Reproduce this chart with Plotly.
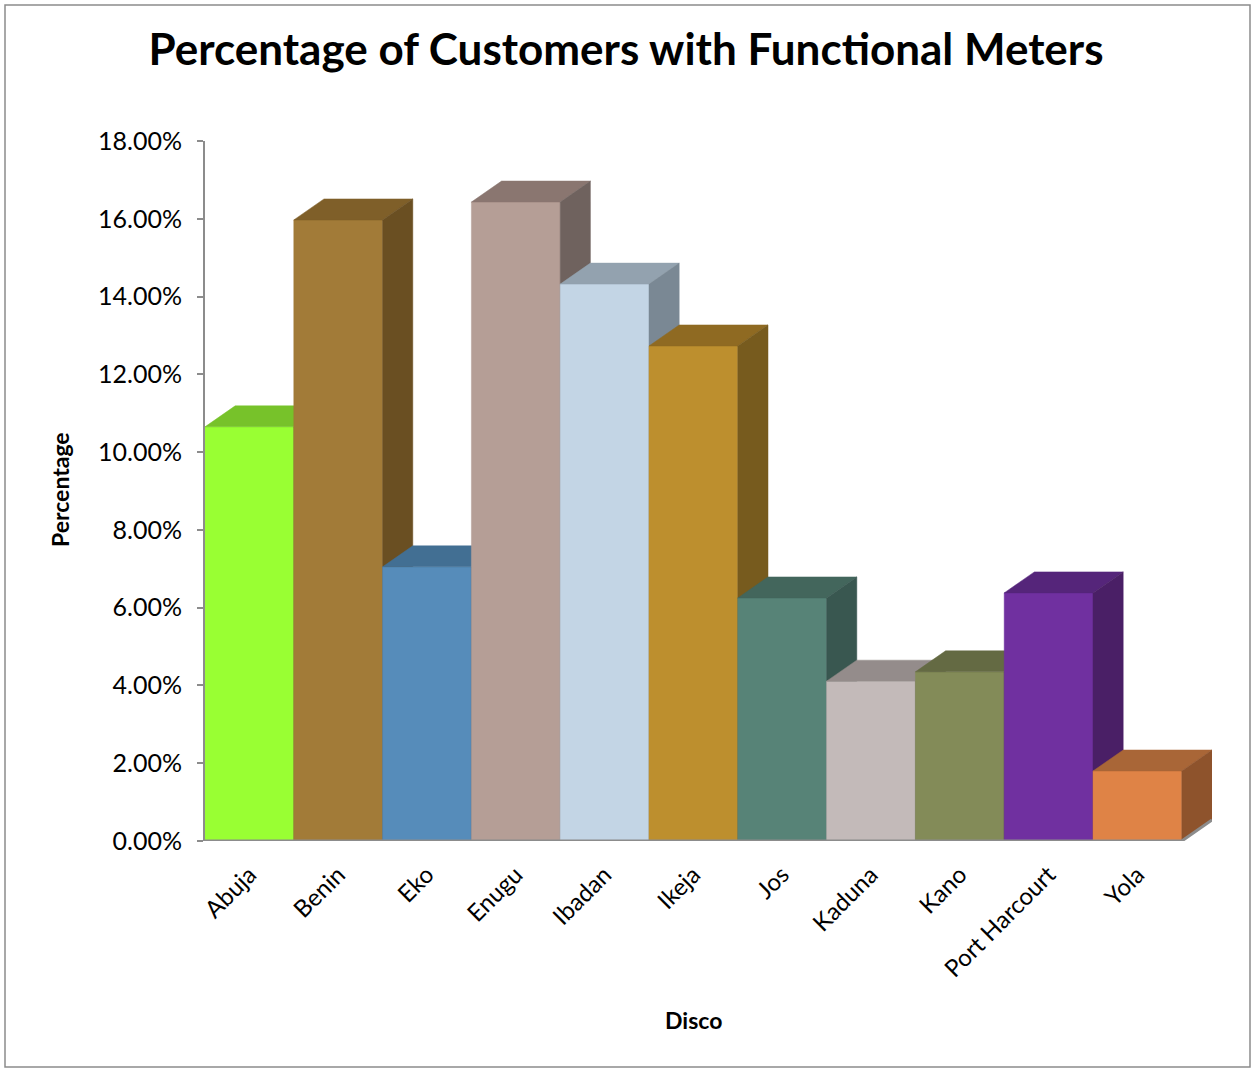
import plotly.graph_objects as go

categories = ["Abuja", "Benin", "Eko", "Enugu", "Ibadan", "Ikeja", "Jos",
              "Kaduna", "Kano", "Port Harcourt", "Yola"]
values = [0.1065, 0.1597, 0.0705, 0.1643, 0.1432, 0.1273, 0.0625,
          0.0411, 0.0435, 0.0638, 0.0180]
front_colors = ["#99FF33", "#A27B38", "#568CBA", "#B59E96", "#C3D5E5", "#BD8F2E",
                "#578377", "#C3BAB9", "#838B58", "#7030A0", "#DF8346"]
top_colors = ["#77C22A", "#7F5F29", "#426F93", "#8A7670", "#93A2AF", "#8F6A22",
              "#43665C", "#948C8B", "#646A43", "#55257A", "#A96637"]
side_colors = ["#5E9A20", "#6A4F22", "#35597A", "#6F625E", "#7A8894", "#775B1E",
               "#395750", "#7A7372", "#51573A", "#4A1F66", "#8E532C"]
y_ticks = [0, 0.02, 0.04, 0.06, 0.08, 0.10, 0.12, 0.14, 0.16, 0.18]

DX = 0.34      # depth offset in category units
DY = 0.0054    # depth offset in value units
HALF = 0.5

fig = go.Figure()

def poly(xs, ys, color):
    fig.add_trace(go.Scatter(
        x=xs + [xs[0]], y=ys + [ys[0]], mode="lines", fill="toself",
        fillcolor=color, line=dict(color=color, width=0.5),
        hoverinfo="skip", showlegend=False))

for i, (cat, v) in enumerate(zip(categories, values)):
    x0, x1 = i - HALF, i + HALF
    poly([x0, x1, x1, x0], [0, 0, v, v], front_colors[i])
    poly([x0, x1, x1 + DX, x0 + DX], [v, v, v + DY, v + DY], top_colors[i])
    poly([x1, x1 + DX, x1 + DX, x1], [0, DY, v + DY, v], side_colors[i])

n = len(categories)
fig.add_trace(go.Scatter(
    x=[-HALF, n - HALF, n - HALF + DX], y=[0, 0, DY], mode="lines",
    line=dict(color="#8C8C8C", width=3), hoverinfo="skip", showlegend=False))

font_family = "Lato, 'Open Sans', sans-serif"

fig.update_layout(
    width=1252, height=1069,
    margin=dict(l=205, r=40, t=141, b=228),
    paper_bgcolor="white", plot_bgcolor="white",
    title=dict(text="<b>Percentage of Customers with Functional Meters</b>",
               x=0.5, xref="container", xanchor="center",
               y=1 - 50 / 1069, yref="container", yanchor="middle",
               font=dict(family=font_family, size=44, color="black")),
    xaxis=dict(range=[-HALF, n - HALF + DX], showgrid=False, zeroline=False,
               showline=False, tickmode="array", tickvals=list(range(n)),
               ticktext=categories, tickangle=-45, ticks="",
               ticklabelstandoff=14,
               tickfont=dict(family=font_family, size=24, color="black")),
    yaxis=dict(range=[0, 0.18], showgrid=False, zeroline=False,
               showline=True, linecolor="#8C8C8C", linewidth=2,
               tickmode="array", tickvals=y_ticks, tickformat=".2%",
               ticks="outside", ticklen=6, tickcolor="#8C8C8C", tickwidth=2,
               ticklabelstandoff=10,
               tickfont=dict(family=font_family, size=25, color="black")),
    annotations=[
        dict(text="<b>Percentage</b>", xref="paper", yref="paper",
             x=(60 - 205) / 1007, y=(841 - 490) / 700, textangle=-90,
             showarrow=False, xanchor="center", yanchor="middle",
             font=dict(family=font_family, size=23, color="black")),
        dict(text="<b>Disco</b>", xref="paper", yref="paper",
             x=(693 - 205) / 1007, y=(841 - 1020) / 700,
             showarrow=False, xanchor="center", yanchor="middle",
             font=dict(family=font_family, size=23, color="black")),
    ],
    shapes=[dict(type="rect", xref="paper", yref="paper",
                 x0=(5 - 205) / 1007, x1=(1250 - 205) / 1007,
                 y0=(841 - 1067) / 700, y1=(841 - 5) / 700,
                 line=dict(color="#8C8C8C", width=1.5), fillcolor="rgba(0,0,0,0)",
                 layer="below")],
)

fig.write_html("out.html")
